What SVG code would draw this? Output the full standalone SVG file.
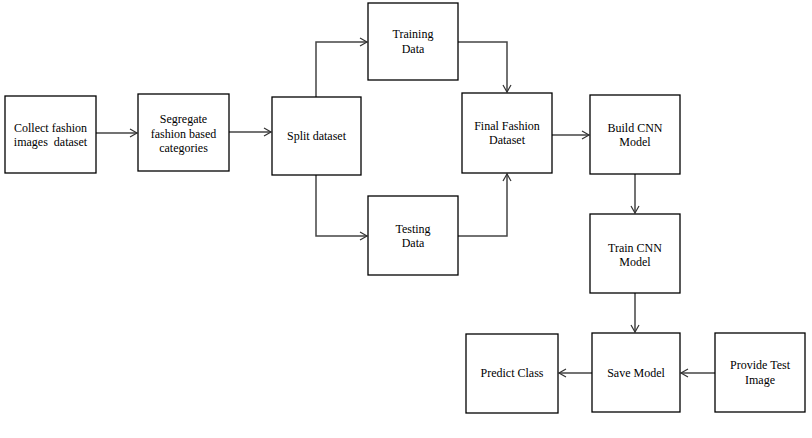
<svg xmlns="http://www.w3.org/2000/svg" width="812" height="438" viewBox="0 0 812 438">
<defs>
<marker id="arr" markerWidth="10" markerHeight="10" refX="8" refY="5" orient="auto" markerUnits="userSpaceOnUse">
<path d="M1,1 L8,5 L1,9" fill="none" stroke="#333" stroke-width="1.2"/>
</marker>
</defs>
<style>
.box{fill:#fff;stroke:#000;stroke-width:1.3}
.t{font-family:"Liberation Serif","Times New Roman",serif;font-size:12px;fill:#000;text-anchor:middle}
.c{fill:none;stroke:#444;stroke-width:1.5;marker-end:url(#arr)}
</style>
<rect width="812" height="438" fill="#fff"/>
<g id="connectors">
<path class="c" d="M96,133 H137"/>
<path class="c" d="M229,132 H271"/>
<path class="c" d="M316,97 V42 H367"/>
<path class="c" d="M316,175 V236 H367"/>
<path class="c" d="M458,42 H507 V92"/>
<path class="c" d="M458,236 H507 V174"/>
<path class="c" d="M552,135 H589"/>
<path class="c" d="M635,174 V213"/>
<path class="c" d="M635,293 V332"/>
<path class="c" d="M592,373 H559"/>
<path class="c" d="M715,373 H681"/>
</g>
<g id="collect"><rect class="box" x="5" y="96" width="91" height="77"/><text class="t" x="50.5" y="132">Collect fashion</text><text class="t" x="50.5" y="146" xml:space="preserve">images  dataset</text></g>
<g id="segregate"><rect class="box" x="138" y="94" width="91" height="77"/><text class="t" x="183.5" y="123">Segregate</text><text class="t" x="183.5" y="137.5">fashion based</text><text class="t" x="183.5" y="152">categories</text></g>
<g id="split"><rect class="box" x="272" y="97" width="89" height="78"/><text class="t" x="316.5" y="140">Split dataset</text></g>
<g id="training"><rect class="box" x="368" y="3" width="90" height="77"/><text class="t" x="413" y="38">Training</text><text class="t" x="413" y="53">Data</text></g>
<g id="testing"><rect class="box" x="368" y="196" width="90" height="79"/><text class="t" x="413" y="233">Testing</text><text class="t" x="413" y="247">Data</text></g>
<g id="final"><rect class="box" x="462" y="93" width="90" height="80"/><text class="t" x="507" y="130">Final Fashion</text><text class="t" x="507" y="144">Dataset</text></g>
<g id="build"><rect class="box" x="590" y="95" width="90" height="79"/><text class="t" x="635" y="132">Build CNN</text><text class="t" x="635" y="146">Model</text></g>
<g id="train"><rect class="box" x="590" y="214" width="90" height="79"/><text class="t" x="635" y="252">Train CNN</text><text class="t" x="635" y="266">Model</text></g>
<g id="save"><rect class="box" x="592" y="333" width="88" height="79"/><text class="t" x="636" y="377">Save Model</text></g>
<g id="predict"><rect class="box" x="466" y="334" width="92" height="79"/><text class="t" x="512" y="377">Predict Class</text></g>
<g id="provide"><rect class="box" x="715" y="333" width="90" height="79"/><text class="t" x="760" y="369">Provide Test</text><text class="t" x="760" y="384">Image</text></g>
</svg>
